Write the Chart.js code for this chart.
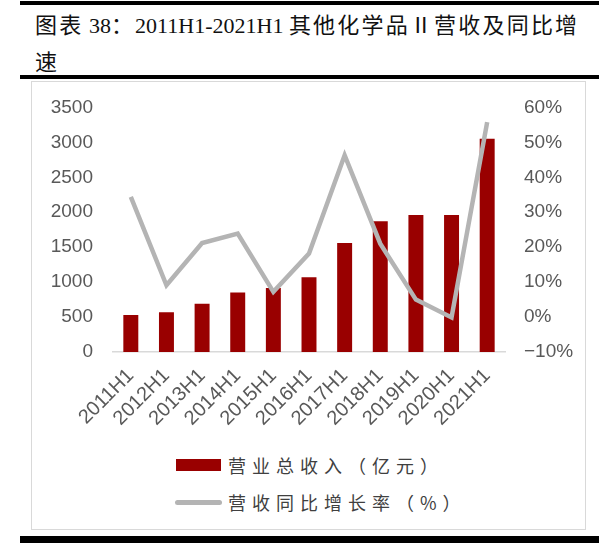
<!DOCTYPE html>
<html>
<head>
<meta charset="utf-8">
<script src="https://cdn.jsdelivr.net/npm/chart.js@4.4.0/dist/chart.umd.min.js"></script>
<style>
  html, body { margin: 0; padding: 0; background: #fff; }
  #page { position: relative; width: 599px; height: 543px; overflow: hidden; }
  .rule { position: absolute; left: 20px; right: 0; background: #000; }
  #title {
    position: absolute; left: 35px; top: 6px;
    font-family: "Liberation Serif", "Noto Sans CJK SC", serif;
    font-size: 22px; line-height: 35px; color: #111; white-space: nowrap;
  }
  #title .cn { font-family: "Noto Sans CJK SC", sans-serif; letter-spacing: 2.2px; }
  #frame {
    position: absolute; left: 31px; top: 81px; width: 553px; height: 447px;
    border: 1.5px solid #d9d9d9;
  }
  #wrap { position: absolute; left: 32px; top: 76px; width: 553px; height: 371px; }
  .leg {
    position: absolute; left: 228px;
    font-family: "Noto Sans CJK SC", sans-serif; font-size: 18px;
    letter-spacing: 6px; color: #404040; line-height: 22px;
  }
  .swatch { position: absolute; }
</style>
</head>
<body>
<div id="page">
  <div class="rule" style="top:1px;height:4px"></div>
  <div id="title"><span class="cn">图表</span> 38<span class="cn">：</span>2011H1-2021H1 <span class="cn">其他化学品Ⅱ营收及同比增</span><br><span class="cn">速</span></div>
  <div class="rule" style="top:75px;height:4px"></div>
  <div id="frame"></div>
  <div id="wrap"><canvas id="chart"></canvas></div>
  <div id="legend"></div>
  <div class="rule" style="top:536px;height:7px"></div>
</div>
<script>
// 数据
const categorias = ['2011H1', '2012H1', '2013H1', '2014H1', '2015H1', '2016H1',
  '2017H1', '2018H1', '2019H1', '2020H1', '2021H1'];
const receita = [530, 570, 690, 850, 915, 1070, 1560, 1870, 1960, 1960, 3050];   // 亿元
const crescimento = [34.4, 9.1, 21.2, 23.9, 7.2, 18.2, 46.3, 21.0, 5.0, -0.1, 55.8]; // %
const labelReceita = '营业总收入（亿元）';
const labelCrescimento = '营收同比增长率（%）';

const corBarra = '#990000';
const corLinha = '#b4b4b4';
const corTexto = '#595959';

const fonteEixo = { family: 'Liberation Sans', size: 19 };

const grafico = new Chart(document.getElementById('chart'), {
  data: {
    labels: categorias,
    datasets: [
      {
        type: 'line',
        label: labelCrescimento,
        data: crescimento,
        yAxisID: 'y1',
        borderColor: corLinha,
        borderWidth: 4.5,
        pointRadius: 0,
        tension: 0,
        order: 0
      },
      {
        type: 'bar',
        label: labelReceita,
        data: receita,
        yAxisID: 'y',
        backgroundColor: corBarra,
        barPercentage: 0.42,
        categoryPercentage: 1,
        order: 1
      }
    ]
  },
  options: {
    responsive: true,
    maintainAspectRatio: false,
    animation: false,
    layout: { padding: 0 },
    plugins: { legend: { display: false }, tooltip: { enabled: false } },
    scales: {
      x: {
        grid: { display: false },
        border: { display: true, color: '#d9d9d9', width: 1.5 },
        ticks: {
          color: corTexto, font: { family: 'Liberation Sans', size: 20 },
          minRotation: 45, maxRotation: 45, autoSkip: false, padding: 4
        },
        afterFit: s => { s.height = 95; }
      },
      y: {
        position: 'left',
        min: 0, max: 3500,
        grid: { display: false, drawTicks: false },
        border: { display: false },
        ticks: {
          stepSize: 500, color: corTexto, font: fonteEixo, padding: 20,
          callback: v => String(v)
        },
        afterFit: s => { s.width = 81; }
      },
      y1: {
        position: 'right',
        min: -10, max: 60,
        grid: { display: false, drawTicks: false },
        border: { display: false },
        ticks: {
          stepSize: 10, color: corTexto, font: fonteEixo, padding: 19,
          callback: v => (v < 0 ? '\u2212' + Math.abs(v) : v) + '%'
        },
        afterFit: s => { s.width = 80; }
      }
    }
  }
});

// legenda em HTML, duas linhas
const legenda = document.getElementById('legend');
[
  { texto: labelReceita, top: 454, swatch: 'left:176px;top:459px;width:45px;height:12px;background:' + corBarra },
  { texto: labelCrescimento, top: 491, swatch: 'left:175px;top:500px;width:47px;height:4.5px;border-radius:3px;background:' + corLinha }
].forEach(item => {
  const sw = document.createElement('div');
  sw.className = 'swatch';
  sw.style.cssText = sw.style.cssText + item.swatch;
  legenda.appendChild(sw);
  const t = document.createElement('div');
  t.className = 'leg';
  t.style.top = item.top + 'px';
  t.textContent = item.texto;
  legenda.appendChild(t);
});
</script>
</body>
</html>
